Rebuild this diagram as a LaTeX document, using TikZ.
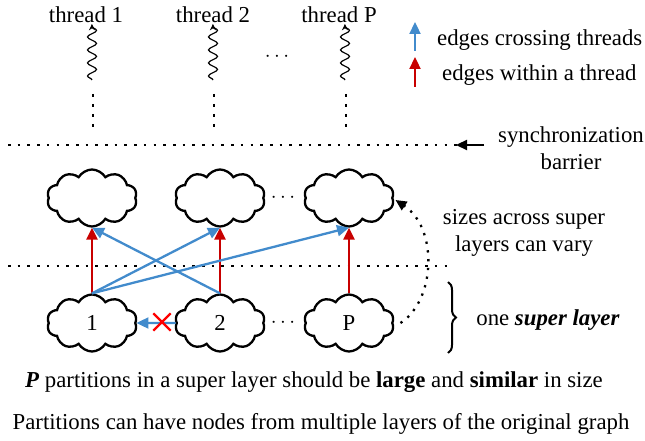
\documentclass[tikz,border=0pt]{standalone}
\usepackage{fontspec}
\setmainfont{Liberation Serif}
\usepackage{tikz}
\usetikzlibrary{positioning,arrows.meta,shapes.symbols,shapes.misc,decorations.pathmorphing,decorations.pathreplacing}
\definecolor{crossblue}{RGB}{66,139,204}
\definecolor{withinred}{RGB}{200,0,0}

\begin{document}
\begin{tikzpicture}[x=1pt, y=-1pt, inner sep=1pt, font=\fontsize{22.8}{27}\selectfont,
    part/.style={cloud, cloud puffs=10, cloud puff arc=120, cloud ignores aspect, draw, line width=2.3pt, minimum width=90pt, minimum height=57pt, inner sep=0pt},
    crossedge/.style={crossblue, line width=2.3pt, -{Triangle[length=12pt,width=11pt]}},
    withinedge/.style={withinred, line width=2.3pt, -{Triangle[length=12pt,width=11pt]}},
    dotline/.style={line width=2.6pt, dash pattern=on 2.6pt off 7.1pt}]
        \useasboundingbox (0,0) rectangle (645,441);

        % threads on top
        \foreach \i/\x/\tx/\lab in {1/92/86/1, 2/213/213/2, 3/345/339/P} {
          \node (th\i) at (\tx,15) {thread \lab};
          \coordinate (sq\i) at (\x,80);
          \draw[line width=1.2pt, -{Stealth[length=6pt,width=6pt]}, decorate, decoration={snake, amplitude=4.5pt, segment length=13pt}] (sq\i) -- (th\i.south -| sq\i);
          \draw[dotline, dash pattern=on 2.6pt off 7.4pt] (\x+1,94) -- (\x+1,127);
        }
        \node (thdots) at (277,57) {$\cdots$};

        % legend
        \coordinate (lgb0) at (415,51);
        \coordinate (lgb1) at (415,22);
        \coordinate (lgr0) at (415,87);
        \coordinate (lgr1) at (415,57);
        \draw[crossedge] (lgb0) -- (lgb1);
        \draw[withinedge] (lgr0) -- (lgr1);
        \node[anchor=west] (lgbtext) at (436,40) {edges crossing threads};
        \node[anchor=west] (lgrtext) at (441,75) {edges within a thread};

        % synchronization barrier
        \draw[dotline] (8,145) -- (457,145);
        \node[align=center] (sync) at (571,148) {synchronization\\barrier};
        \coordinate (barr) at (484,145);
        \coordinate (barrtip) at (456,145);
        \draw[line width=2.3pt, -{Triangle[length=11pt,width=10pt]}] (barr) -- (barrtip);

        % partitions (clouds)
        \foreach \i/\x/\lab in {1/92/1, 2/220/2, 3/349/P} {
          \node[part] (T\i) at (\x,198) {};
          \node[part] (B\i) at (\x,323) {\lab};
        }
        \node (tdots) at (283,198) {$\cdots$};
        \node (bdots) at (283,323) {$\cdots$};

        % super layer border
        \draw[dotline] (8,266) -- (452,266);

        % edges
        \foreach \i in {1,2,3} {
          \draw[withinedge] (B\i.north) -- (T\i.south);
        }
        \draw[crossedge] (B1.north) -- (T2.south);
        \draw[crossedge] (B1.north) -- (T3.south);
        \draw[crossedge] (B2.north) -- (T1.south);
        \draw[crossedge] (B2.west) -- (B1.east);
        \node[cross out, draw=red, line width=2.3pt, minimum size=15pt, inner sep=0pt] (nox) at (162,322) {};

        % size can vary
        \draw[line width=2.3pt, dash pattern=on 2.3pt off 6.5pt, -{Triangle[length=11pt,width=10pt]}] ([xshift=7pt]B3.east) .. controls (436,300) and (438,228) .. ([xshift=2pt,yshift=-2pt]T3.east);
        \node[align=center] (sizes) at (524,233) {sizes across super\\layers can vary};

        % one super layer
        \coordinate (brtop) at (448,282);
        \coordinate (brbot) at (448,353);
        \draw[line width=2pt, decorate, decoration={brace, amplitude=8pt}] (brtop) -- (brbot);
        \node (onesl) at (548,320) {one \textbf{\textit{super layer}}};

        % notes
        \node (note1) at (314,382) {\textbf{\textit{P}} partitions in a super layer should be \textbf{large} and \textbf{similar} in size};
        \node (note2) at (321,424) {Partitions can have nodes from multiple layers of the original graph};
    \end{tikzpicture}
\end{document}
